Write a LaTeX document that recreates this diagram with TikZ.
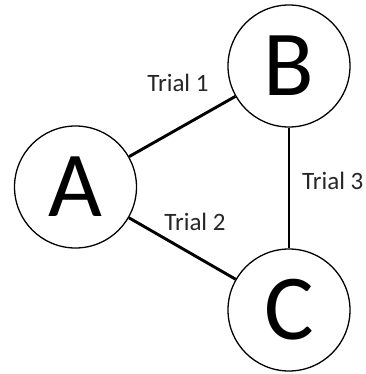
\documentclass[tikz,border=0pt]{standalone}
\usepackage{fontspec}
\setmainfont{Carlito}
\begin{document}
\begin{tikzpicture}[x=1pt, y=1pt,
    % Define styles
    vertex/.style={circle, draw=black, line width=1.3pt, fill=white, inner sep=0pt, minimum size=122pt, font=\fontsize{93}{93}\selectfont},
    trial/.style={font=\fontsize{25}{25}\selectfont, text=black!85, inner sep=0pt},
    link/.style={line width=2.9pt, draw=black}
]
\useasboundingbox (0,0) rectangle (365,374);

% Vertices
\node[vertex] (A) at (75.5, 187) {A};
\node[vertex] (B) at (289, 308) {B};
\node[vertex] (C) at (289, 64) {C};

% Trials
\draw[link] (A) -- (B);
\draw[link] (A) -- (C);
\draw[link] (B) -- (C);

% Labels
\node[trial] (trial1) at (178, 291) {Trial 1};
\node[trial] (trial2) at (195, 152) {Trial 2};
\node[trial, anchor=west] (trial3) at (302, 193) {Trial 3};

\end{tikzpicture}
\end{document}
